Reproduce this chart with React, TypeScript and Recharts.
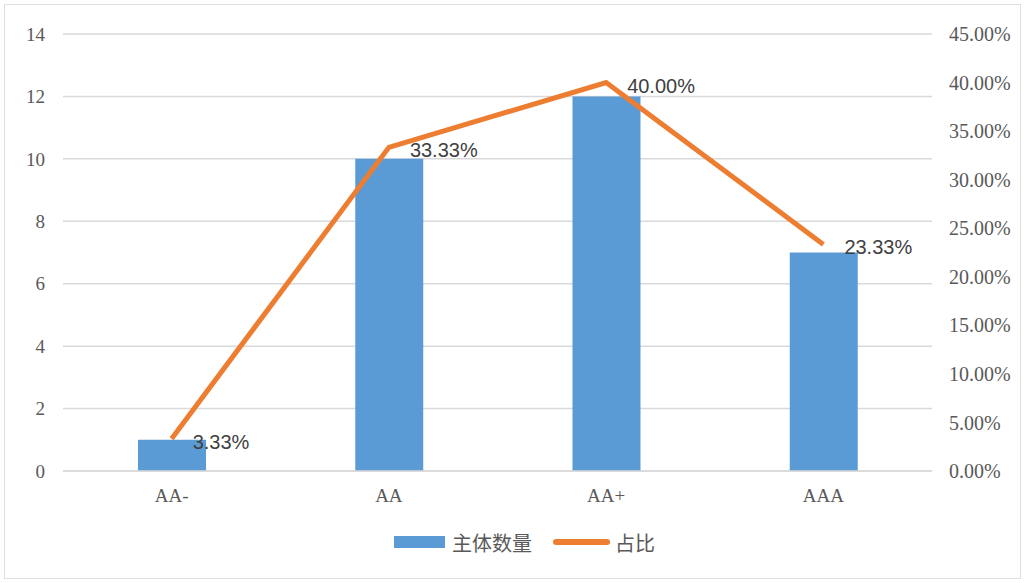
import React from "react";
import { ComposedChart, Bar, Line, XAxis, YAxis, CartesianGrid, Legend, LabelList } from "recharts";

const categories = ["AA-", "AA", "AA+", "AAA"];
const counts = [1, 10, 12, 7];
const ratios = [3.33, 33.33, 40.0, 23.33];
const leftTicks = [0, 2, 4, 6, 8, 10, 12, 14];
const rightTicks = [0, 5, 10, 15, 20, 25, 30, 35, 40, 45];

const data = categories.map((c, i) => ({ name: c, count: counts[i], ratio: ratios[i] }));

const BLUE = "#5B9BD5";
const ORANGE = "#ED7D31";
const serif = "'Liberation Serif', 'Times New Roman', serif";

const RatioLabel = (props: any) => {
  const { x, y, value } = props;
  return (
    <text x={x + 21} y={y + 3} dominantBaseline="central" fontSize={20} fill="#404040" fontFamily="'Liberation Sans', Arial, sans-serif">
      {Number(value).toFixed(2)}%
    </text>
  );
};

const LegendContent = () => (
  <div style={{ display: "flex", justifyContent: "center", alignItems: "center", height: 42, paddingLeft: 22, fontFamily: "'Noto Sans CJK SC', sans-serif", fontSize: 20, color: "#595959" }}>
    <span style={{ display: "inline-block", width: 51, height: 12, background: BLUE, marginRight: 7 }} />
    <span style={{ marginRight: 21 }}>主体数量</span>
    <span style={{ display: "inline-block", width: 57, height: 6, borderRadius: 3, background: ORANGE, marginRight: 5 }} />
    <span>占比</span>
  </div>
);

export default function App() {
  return (
    <div style={{ position: "absolute", left: 0, top: 0, width: 1027, height: 583, background: "#fff" }}>
      <div style={{ position: "absolute", left: 4, top: 4, width: 1015, height: 573, border: "1px solid #e0e0e0" }} />
      <ComposedChart width={1027} height={583} data={data} margin={{ top: 34, right: 0, left: 0, bottom: 20 }}>
        <CartesianGrid yAxisId="left" vertical={false} stroke="#d9d9d9" strokeWidth={1.5} />
        <XAxis dataKey="name" axisLine={{ stroke: "#d9d9d9", strokeWidth: 1.5 }} tickLine={false} tickMargin={12} height={50}
          tick={{ fontSize: 19, fill: "#595959", fontFamily: serif }} />
        <YAxis yAxisId="left" domain={[0, 14]} ticks={leftTicks} width={63} axisLine={false} tickLine={false} tickMargin={12}
          tick={{ fontSize: 19, fill: "#595959", fontFamily: serif }} />
        <YAxis yAxisId="right" orientation="right" domain={[0, 45]} ticks={rightTicks} width={95} axisLine={false} tickLine={false} tickMargin={11}
          tickFormatter={(v: number) => v.toFixed(2) + "%"}
          tick={{ fontSize: 20, fill: "#595959", fontFamily: serif }} />
        <Legend verticalAlign="bottom" height={42} content={LegendContent} />
        <Bar yAxisId="left" dataKey="count" name="主体数量" fill={BLUE} barSize={68} isAnimationActive={false} />
        <Line yAxisId="right" dataKey="ratio" name="占比" stroke={ORANGE} strokeWidth={5} dot={false} type="linear" isAnimationActive={false}>
          <LabelList dataKey="ratio" content={RatioLabel} />
        </Line>
      </ComposedChart>
    </div>
  );
}
